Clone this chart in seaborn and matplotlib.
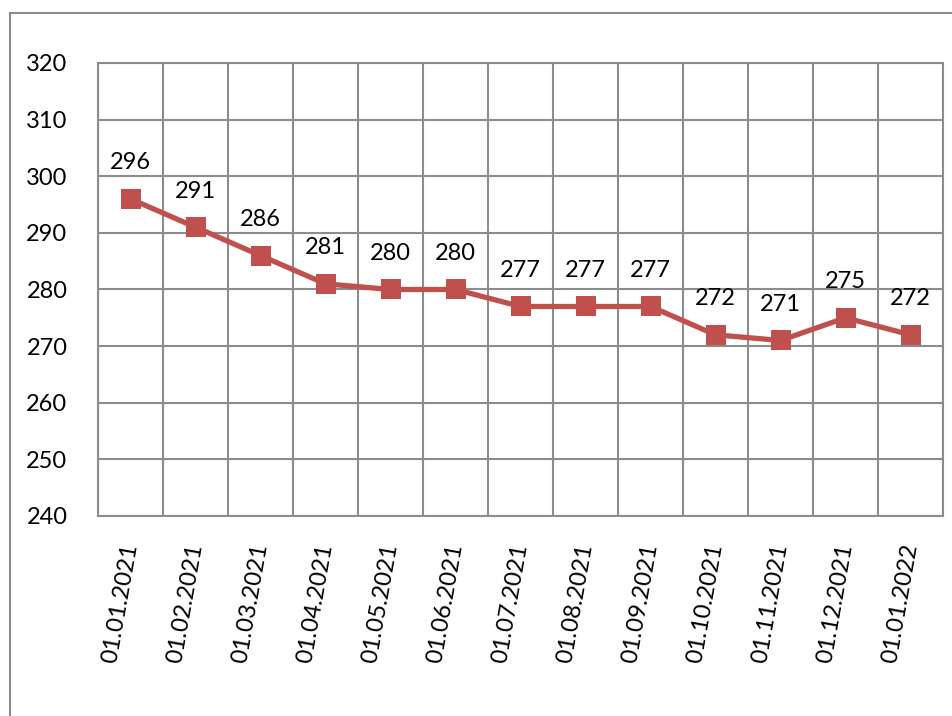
import numpy as np
import pandas as pd
import matplotlib
matplotlib.use("Agg")
import matplotlib.pyplot as plt
from matplotlib.lines import Line2D
import seaborn as sns

dates = ["01.01.2021", "01.02.2021", "01.03.2021", "01.04.2021", "01.05.2021",
         "01.06.2021", "01.07.2021", "01.08.2021", "01.09.2021", "01.10.2021",
         "01.11.2021", "01.12.2021", "01.01.2022"]
values = [296, 291, 286, 281, 280, 280, 277, 277, 277, 272, 271, 275, 272]
y_ticks = [240, 250, 260, 270, 280, 290, 300, 310, 320]

sns.set_theme(style="white")
plt.rcParams['font.family'] = ['Lato', 'DejaVu Sans']

W, H = 953, 716
fig = plt.figure(figsize=(W / 100, H / 100), dpi=100)
ax = fig.add_axes([98 / W, 1 - 516 / H, (943 - 98) / W, (516 - 63) / H])

df = pd.DataFrame({"date": dates, "value": values})
df["pos"] = np.arange(len(dates))
red = "#C0504D"
grid_c = "#8C8C8C"
fs = 17

sns.lineplot(data=df, x="pos", y="value", ax=ax, color=red, linewidth=3.8,
             marker="s", markersize=14, markeredgewidth=0, zorder=3)

ax.set_xlim(-0.5, len(dates) - 0.5)
ax.set_ylim(240, 320)
ax.set_yticks(y_ticks)
ax.set_yticklabels([str(v) for v in y_ticks], fontsize=fs, color="black")
ax.set_xticks(np.arange(len(dates)))
ax.set_xticklabels(dates, fontsize=fs, color="black", rotation=80,
                   rotation_mode="anchor", ha="right", va="center")
ax.set_xticks(np.arange(-0.5, len(dates), 1), minor=True)
ax.tick_params(axis="x", which="both", length=0, pad=20)
ax.tick_params(axis="y", length=0, pad=22)
ax.set_xlabel("")
ax.set_ylabel("")

ax.grid(False)
ax.xaxis.grid(True, which="minor", color=grid_c, linewidth=1.5)
ax.yaxis.grid(True, which="major", color=grid_c, linewidth=1.5)
ax.set_axisbelow(True)
for s in ax.spines.values():
    s.set_visible(True)
    s.set_color(grid_c)
    s.set_linewidth(1.5)

for i, v in enumerate(values):
    ax.annotate(str(v), (i, v), xytext=(0, 36), textcoords="offset pixels",
                ha="center", va="center", fontsize=fs, color="black")

fig.add_artist(Line2D([10 / W, 10 / W], [0, 1 - 12.5 / H], transform=fig.transFigure,
                      color=grid_c, linewidth=1.5))
fig.add_artist(Line2D([10 / W, 952 / W], [1 - 12.5 / H, 1 - 12.5 / H], transform=fig.transFigure,
                      color=grid_c, linewidth=1.5))

fig.savefig("out.png", dpi=100, facecolor="white")
